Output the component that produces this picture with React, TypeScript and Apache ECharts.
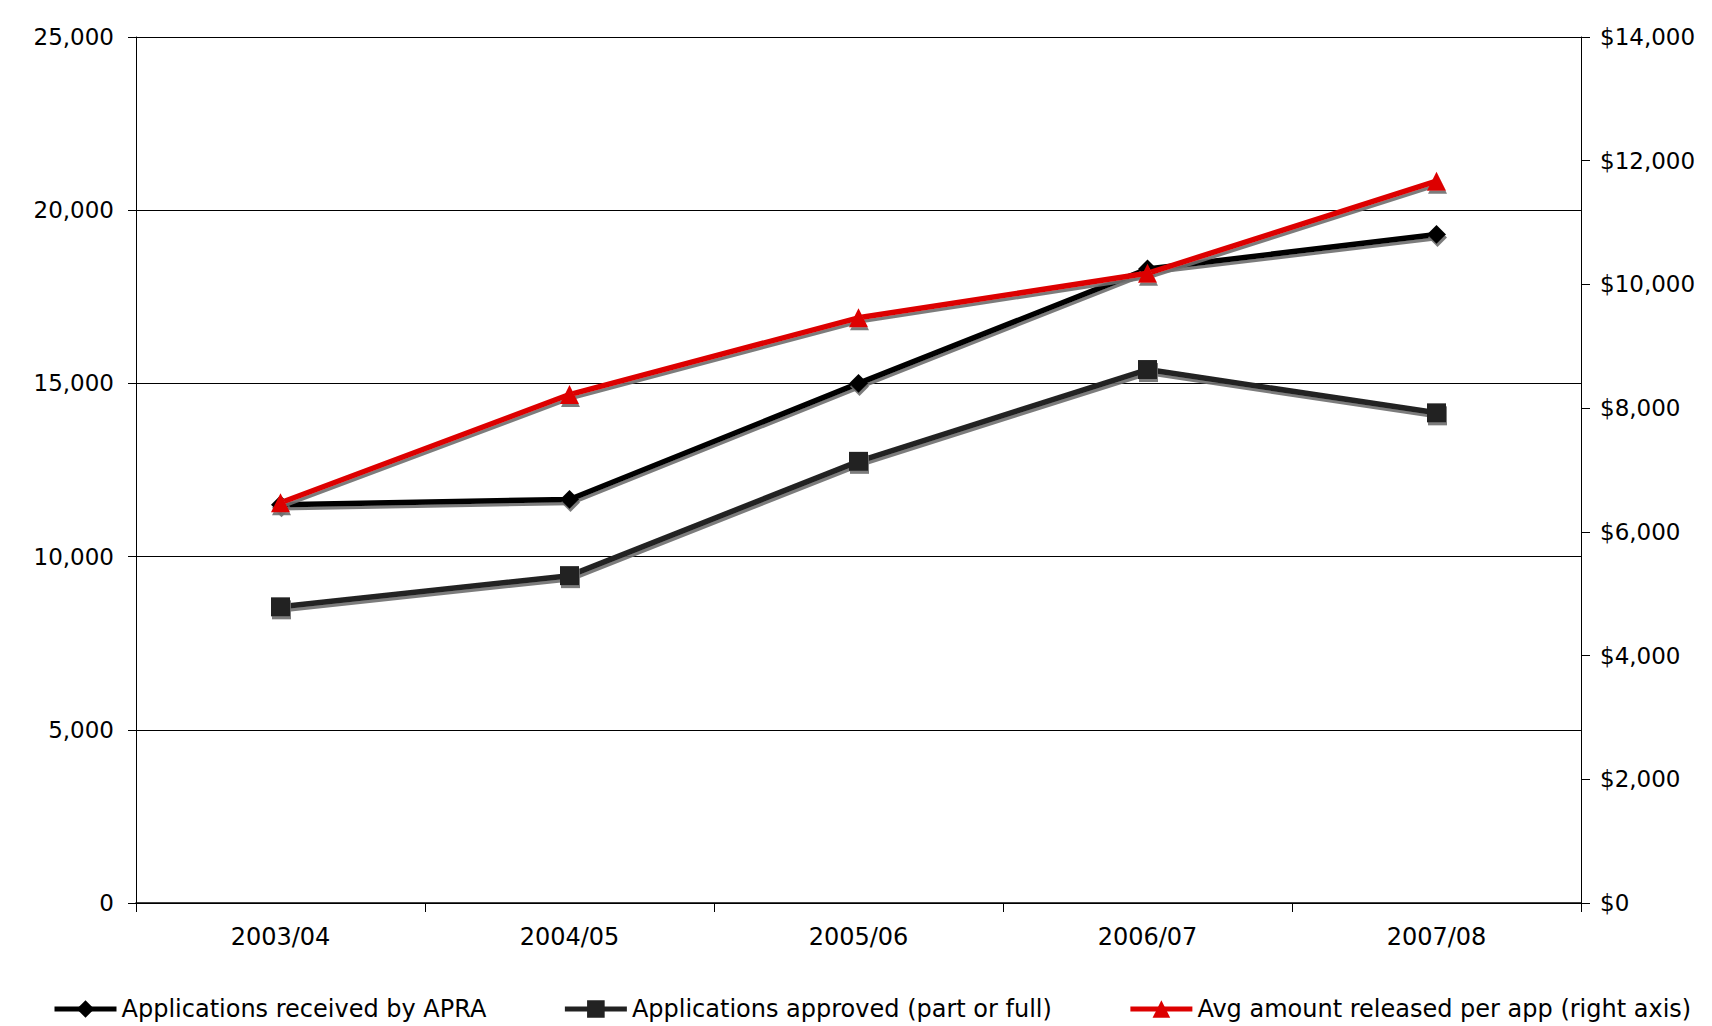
import { useEffect, useRef } from 'react'
import * as echarts from 'echarts'

const years = ['2003/04', '2004/05', '2005/06', '2006/07', '2007/08']
const received = [11500, 11650, 15000, 18300, 19300]
const approved = [8550, 9450, 12750, 15400, 14150]
const avgReleased = [6470, 8220, 9460, 10180, 11670]

const FONT = 'DejaVu Sans'

const shadow = {
  shadowColor: 'rgba(110,110,110,0.9)',
  shadowBlur: 0,
  shadowOffsetX: 1,
  shadowOffsetY: 3
}

const App: React.FC = () => {
  const chartRef = useRef<HTMLDivElement>(null)

  useEffect(() => {
    if (!chartRef.current) return
    const chart = echarts.init(chartRef.current, undefined, { renderer: 'svg' })

    const option = {
      animation: false,
      backgroundColor: '#ffffff',
      textStyle: { fontFamily: FONT, color: '#000' },
      grid: { left: 136, right: 131, top: 37, bottom: 123 },
      legend: {
        left: 47,
        top: 992,
        itemWidth: 62,
        itemHeight: 22,
        itemGap: 76,
        lineStyle: { width: 5 },
        textStyle: { fontFamily: FONT, fontSize: 24, color: '#000' },
        data: [
          'Applications received by APRA',
          'Applications approved (part or full)',
          'Avg amount released per app (right axis)'
        ]
      },
      xAxis: {
        type: 'category',
        data: years,
        boundaryGap: true,
        axisLine: { lineStyle: { color: '#000', width: 1.5 } },
        axisTick: { show: true, inside: false, length: 9, lineStyle: { color: '#000' } },
        axisLabel: { fontFamily: FONT, fontSize: 24, color: '#000', margin: 22 },
        splitLine: { show: false }
      },
      yAxis: [
        {
          type: 'value',
          min: 0,
          max: 25000,
          interval: 5000,
          axisLine: { show: true, lineStyle: { color: '#000' } },
          axisTick: { show: true, length: 8, lineStyle: { color: '#000' } },
          axisLabel: {
            fontFamily: FONT,
            fontSize: 23,
            color: '#000',
            margin: 22,
            formatter: (v: number) => v.toLocaleString('en-US')
          },
          splitLine: { show: true, lineStyle: { color: '#000', width: 1 } }
        },
        {
          type: 'value',
          min: 0,
          max: 14000,
          interval: 2000,
          position: 'right',
          axisLine: { show: true, lineStyle: { color: '#000' } },
          axisTick: { show: true, length: 9, lineStyle: { color: '#000' } },
          axisLabel: {
            fontFamily: FONT,
            fontSize: 23,
            color: '#000',
            margin: 19,
            formatter: (v: number) => '$' + v.toLocaleString('en-US')
          },
          splitLine: { show: false }
        }
      ],
      series: [
        {
          name: 'Applications received by APRA',
          type: 'line',
          data: received,
          yAxisIndex: 0,
          symbol: 'diamond',
          symbolSize: 19,
          lineStyle: { color: '#000', width: 5.5, ...shadow },
          itemStyle: { color: '#000', ...shadow },
          z: 3
        },
        {
          name: 'Applications approved (part or full)',
          type: 'line',
          data: approved,
          yAxisIndex: 0,
          symbol: 'rect',
          symbolSize: 19,
          lineStyle: { color: '#222', width: 5.5, ...shadow },
          itemStyle: { color: '#222', ...shadow },
          z: 2
        },
        {
          name: 'Avg amount released per app (right axis)',
          type: 'line',
          data: avgReleased,
          yAxisIndex: 1,
          symbol: 'triangle',
          symbolSize: 19,
          lineStyle: { color: '#dd0000', width: 5.5, ...shadow },
          itemStyle: { color: '#dd0000', ...shadow },
          z: 4
        }
      ]
    }

    chart.setOption(option)
    return () => chart.dispose()
  }, [])

  return (
    <div
      ref={chartRef}
      style={{ position: 'fixed', left: 0, top: 0, width: '1712px', height: '1026px' }}
    />
  )
}

export default App
